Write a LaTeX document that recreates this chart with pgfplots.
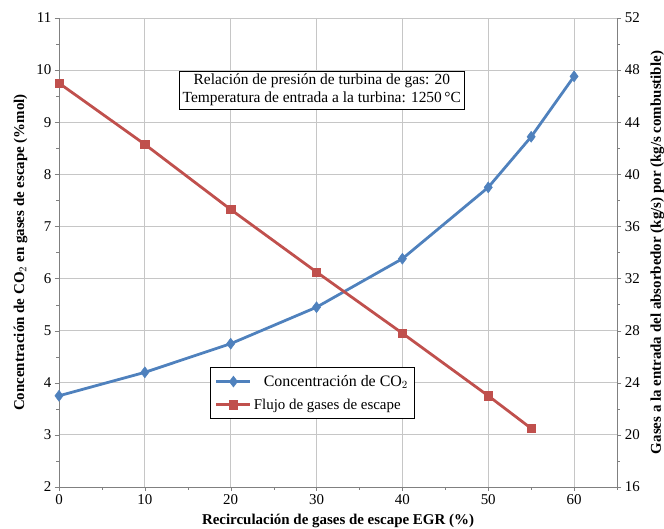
\documentclass[border=0pt]{standalone}
\usepackage{pgfplots}
\pgfplotsset{compat=1.18}
\usepackage{fontspec}
\setmainfont{Liberation Serif}
\definecolor{cblue}{HTML}{4F81BD}
\definecolor{cred}{HTML}{C0504D}
\begin{document}
\begin{tikzpicture}
\pgfplotsset{
  every axis/.style={
    scale only axis, width=558bp, height=469bp,
    xmin=0, xmax=65,
    tick align=outside,
    axis line style={gray},
    tick style={gray},
    /pgf/number format/assume math mode=true,
    tick label style={font=\fontsize{15}{17}\selectfont},
    label style={font=\bfseries\fontsize{15}{17}\selectfont},
  }
}
\begin{axis}[
  name=ax,
  axis y line*=left,
  axis x line*=bottom,
  ymin=2, ymax=11,
  ytick={2,3,...,11},
  minor ytick={2.5,3.5,...,10.5},
  xtick={0,10,...,60},
  minor xtick={5,15,...,65},
  grid=major,
  major grid style={gray!45, line width=0.8pt},
  xlabel={Recirculación de gases de escape EGR (\%)},
  ylabel={Concentración de CO$_2$ en gases de escape (\%mol)},
  ylabel style={yshift=2pt},
  xlabel style={yshift=-2pt},
]
\addplot[cblue, line width=2.8pt, mark=diamond*, mark size=5.5pt, mark options={fill=cblue, line width=0.5pt}]
coordinates {(0,3.75) (10,4.2) (20,4.75) (30,5.45) (40,6.38) (50,7.75) (55,8.72) (60,9.88)};
\node[draw=black, fill=white, align=center, inner sep=3pt, line width=0.8pt,
      font=\fontsize{15.5}{18}\selectfont] at (rel axis cs:0.471,0.846)
  {Relación de presión de turbina de gas: 20\\Temperatura de entrada a la turbina: 1250\,°C};
\end{axis}
\begin{axis}[
  axis y line*=right,
  axis x line=none,
  ymin=16, ymax=52,
  ytick={16,20,...,52},
  minor ytick={18,22,...,50},
  ylabel={Gases a la entrada del absorbedor (kg/s) por (kg/s combustible)},
  ylabel style={yshift=-4pt},
  legend style={at={(rel axis cs:0.27,0.256)}, anchor=north west, draw=black, line width=0.8pt,
    font=\fontsize{15}{17}\selectfont, row sep=7pt, inner xsep=5pt, inner ysep=6pt},
  legend cell align=left,
  legend image code/.code={\draw[#1] (0bp,0bp) -- (34bp,0bp); \draw[#1, only marks] plot coordinates {(17bp,0bp)};},
]
\addlegendimage{cblue, line width=2.8pt, mark=diamond*, mark size=5.5pt, mark options={fill=cblue, line width=0.5pt}}
\addlegendentry{\hspace{10bp}\fontsize{16}{18}\selectfont Concentración de CO$_2$\hspace{6bp}}
\addplot[cred, line width=2.8pt, mark=square*, mark size=4.2pt, mark options={fill=cred, line width=0.5pt}]
coordinates {(0,47.0) (10,42.3) (20,37.3) (30,32.5) (40,27.8) (50,23.0) (55,20.5)};
\addlegendentry{Flujo de gases de escape}
\end{axis}
\pgfresetboundingbox
\path ([xshift=-59bp,yshift=-42bp]ax.south west) rectangle ([xshift=47bp,yshift=18bp]ax.north east);
\end{tikzpicture}
\end{document}
